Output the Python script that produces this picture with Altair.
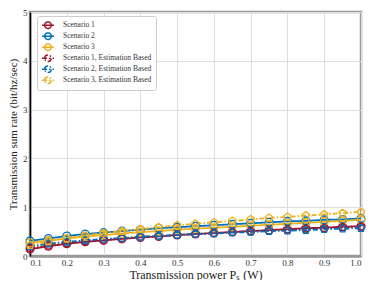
import altair as alt
import pandas as pd

power = [0.1, 0.15, 0.2, 0.25, 0.3, 0.35, 0.4, 0.45, 0.5, 0.55, 0.6, 0.65, 0.7, 0.75, 0.8, 0.85, 0.9, 0.95, 1.0]

series_names = [
    "Scenario 1",
    "Scenario 2",
    "Scenario 3",
    "Scenario 1, Estimation Based",
    "Scenario 2, Estimation Based",
    "Scenario 3, Estimation Based",
]
est_flags = [False, False, False, True, True, True]

s1 = [0.14, 0.20, 0.25, 0.29, 0.32, 0.35, 0.38, 0.40, 0.43, 0.45, 0.47, 0.49, 0.51, 0.53, 0.55, 0.57, 0.58, 0.60, 0.61]
s2 = [0.31, 0.36, 0.41, 0.45, 0.48, 0.51, 0.54, 0.57, 0.59, 0.61, 0.63, 0.65, 0.67, 0.69, 0.71, 0.72, 0.74, 0.75, 0.77]
s3 = [0.27, 0.32, 0.36, 0.40, 0.43, 0.46, 0.49, 0.51, 0.54, 0.56, 0.58, 0.60, 0.62, 0.64, 0.66, 0.68, 0.70, 0.72, 0.74]
s1e = [0.16, 0.21, 0.26, 0.30, 0.33, 0.36, 0.39, 0.41, 0.43, 0.45, 0.47, 0.49, 0.51, 0.52, 0.54, 0.56, 0.57, 0.59, 0.60]
s2e = [0.20, 0.25, 0.29, 0.32, 0.35, 0.37, 0.39, 0.41, 0.43, 0.45, 0.46, 0.48, 0.49, 0.51, 0.52, 0.53, 0.55, 0.56, 0.57]
s3e = [0.22, 0.30, 0.36, 0.42, 0.47, 0.51, 0.55, 0.59, 0.63, 0.66, 0.69, 0.72, 0.75, 0.78, 0.80, 0.83, 0.85, 0.88, 0.90]

colors = ["#A2142F", "#0072BD", "#EDB120", "#A2142F", "#0072BD", "#EDB120"]
dashes = [[1, 0], [1, 0], [1, 0], [5, 2, 1.5, 2], [5, 2, 1.5, 2], [5, 2, 1.5, 2]]
pentagon = "M0,-1L0.951,-0.309L0.588,0.809L-0.588,0.809L-0.951,-0.309Z"

rows = []
for name, est, vals in zip(series_names, est_flags, [s1, s2, s3, s1e, s2e, s3e]):
    for p, v in zip(power, vals):
        rows.append({"power": p, "rate": v, "series": name, "series_pt": name, "est": est})
df = pd.DataFrame(rows)

FONT = "Liberation Serif"

x = alt.X("power:Q", scale=alt.Scale(domain=[0.1, 1.0], nice=False),
          axis=alt.Axis(title="Transmission power Pₛ (W)", values=[0.1, 0.2, 0.3, 0.4, 0.5, 0.6, 0.7, 0.8, 0.9, 1.0],
                        format=".1f", domainColor="#999999", domainWidth=2.5, ticks=False,
                        labelPadding=2, titlePadding=2))
y = alt.Y("rate:Q", scale=alt.Scale(domain=[0, 5], nice=False),
          axis=alt.Axis(title="Transmission sum rate (bit/hz/sec)", values=[0, 1, 2, 3, 4, 5],
                        domainColor="#000000", domainWidth=1.5, ticks=False, labelPadding=3,
                        titleX=-17, titleY=122, titleBaseline="middle", titleFontSize=11))

legend_symbol = "M-1,0H1M-0.55,0A0.55,0.55,0,1,1,0.55,0A0.55,0.55,0,1,1,-0.55,0"
color = alt.Color("series:N", scale=alt.Scale(domain=series_names, range=colors),
                  legend=alt.Legend(title=None, orient="none", legendX=7, legendY=4,
                                    symbolType=legend_symbol, clipHeight=10.4))
dash = alt.StrokeDash("series:N", scale=alt.Scale(domain=series_names, range=dashes), legend=None)
color_pt = alt.Color("series_pt:N", scale=alt.Scale(domain=series_names, range=colors), legend=None)

base = alt.Chart(df)
lines = base.mark_line(strokeWidth=1.8).encode(x=x, y=y, color=color, strokeDash=dash)
pts_main = base.mark_point(filled=False, size=60, strokeWidth=1.3, shape="circle", opacity=1).encode(
    x=x, y=y, color=color_pt).transform_filter("!datum.est")
pts_est = base.mark_point(filled=False, size=60, strokeWidth=1.3, shape=pentagon, opacity=1).encode(
    x=x, y=y, color=color_pt).transform_filter("datum.est")

chart = alt.layer(lines, pts_main, pts_est).properties(
    width=331, height=244,
    autosize=alt.AutoSizeParams(type="none"),
    padding={"left": 22, "top": 4, "right": 5, "bottom": 24},
).configure_view(stroke="#999999", strokeWidth=2.5).configure_axis(
    labelFont=FONT, titleFont=FONT, labelFontSize=9, titleFontSize=12, titleFontWeight="normal",
    labelColor="#333333", titleColor="#222222", gridColor="#dddddd", gridWidth=1,
).configure_legend(
    labelFont=FONT, labelFontSize=7.5, labelColor="#333333", strokeColor="#cccccc", fillColor="#ffffff",
    padding=4, rowPadding=0, symbolSize=144, symbolStrokeWidth=1.5, labelOffset=8, cornerRadius=2,
)

chart.save("out.html", embed_options={"renderer": "svg", "actions": False})
